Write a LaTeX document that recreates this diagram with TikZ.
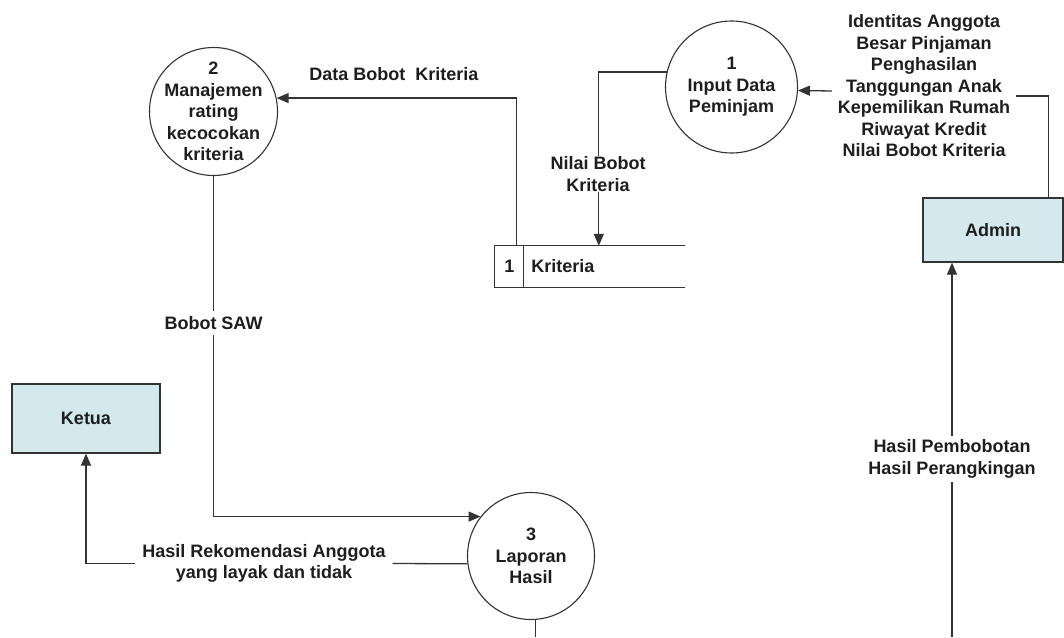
\documentclass[tikz,border=0pt]{standalone}
\usepackage{fontspec}
\setmainfont{Liberation Sans}
\usetikzlibrary{arrows.meta,calc}
\definecolor{boxfill}{HTML}{D3E9EE}
\definecolor{ink}{HTML}{333333}
\definecolor{txt}{HTML}{1E1E1E}
\tikzset{
  every node/.style={font=\fontsize{18}{21.5}\selectfont\bfseries, text=txt},
  proc/.style={circle, draw=ink, line width=1.1pt, inner sep=0pt},
  ent/.style={rectangle, draw=ink, line width=1.3pt, fill=boxfill},
  flow/.style={draw=ink, line width=1.3pt},
  flowarr/.style={flow, -{Triangle[length=12pt,width=10pt]}},
  lab/.style={align=center, fill=white, inner sep=5pt}
}
\begin{document}
\begin{tikzpicture}[x=1pt,y=-1pt]
\useasboundingbox (0,0) rectangle (1064,637);
% processes
\node[proc, minimum size=132pt, label={[align=center]center:{1\\Input Data\\Peminjam}}] (c1) at (731.5,87) {};
\node[proc, minimum size=128pt, label={[align=center]center:{2\\Manajemen\\rating\\kecocokan\\kriteria}}] (c2) at (213.5,111.5) {};
\node[proc, minimum size=127pt, label={[align=center]center:{3\\Laporan\\Hasil}}] (c3) at (531,556) {};
% external entities
\node[ent, minimum width=140pt, minimum height=64pt] (admin) at (993,230) {Admin};
\node[ent, minimum width=148pt, minimum height=69pt] (ketua) at (86,418.5) {Ketua};
% data store
\node[minimum width=190pt, minimum height=41pt, inner sep=0pt] (store) at (590,266.5) {};
\draw[flow] (store.north east) -- (store.north west) -- (store.south west) -- (store.south east);
\draw[flow] ($(store.north west)+(29,0)$) -- ($(store.south west)+(29,0)$);
\node (storeno) at ($(store.west)+(14.5,0)$) {1};
\node[anchor=west] (storename) at ($(store.west)+(33,0)$) {Kriteria};
% labels
\node[align=center, inner sep=6pt] (lblA) at (924,86) {Identitas Anggota\\Besar Pinjaman\\Penghasilan\\Tanggungan Anak\\Kepemilikan Rumah\\Riwayat Kredit\\Nilai Bobot Kriteria};
\node (lblD) at (394,74) {Data Bobot\ \ Kriteria};
\node[lab] (lblB) at (213.5,323) {Bobot SAW};
\node[align=center, inner sep=7pt] (lblR) at (264,563.5) {Hasil Rekomendasi Anggota\\yang layak dan tidak};
\node[align=center, inner sep=4pt] (lblH) at (952,459) {Hasil Pembobotan\\Hasil Perangkingan};
% free ends at the lower edge
\coordinate (endA) at (952,637);
\coordinate (endC) at (535,637);
% flows
\draw[flow] ($(admin.north east)+(-15,0)$) |- ([yshift=-10pt]lblA.east);
\draw[flowarr] ([yshift=-5pt]lblA.west) -- (c1.-3.5);
\draw[flowarr] (c1.167.7) -| ($(store.north west)+(104,0)$);
\node[align=center, fill=white, inner sep=1pt] (lblN) at (598,174) {Nilai Bobot\\Kriteria};
\draw[flowarr] ($(store.north west)+(22,0)$) |- (c2.12.2);
\draw[flow] (c2.south) -- (lblB.north);
\draw[flowarr] (lblB.south) |- (c3.142.5);
\draw[flow] (c3.187.2) -- (lblR.east);
\draw[flowarr] (lblR.west) -| (ketua.south);
\draw[flow] (endA) -- (lblH.south);
\draw[flowarr] (lblH.north) -- (lblH.north |- admin.south);
\draw[flow] (c3.-86.4) -- (c3.-86.4 |- endC);
\end{tikzpicture}
\end{document}
